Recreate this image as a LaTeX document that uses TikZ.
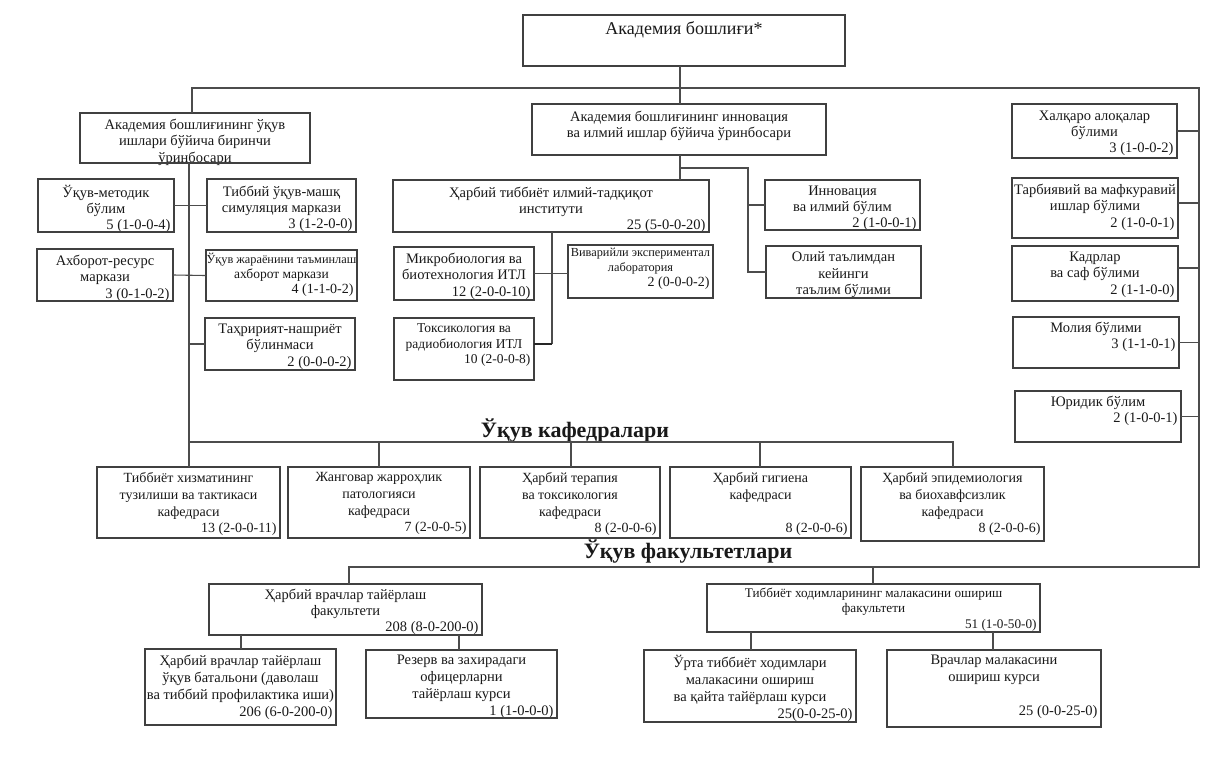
\documentclass[tikz,border=0pt]{standalone}
\usepackage{fontspec}
\setmainfont{Liberation Serif}
\newcommand\R[1]{\makebox[\utw pt][r]{#1}}
\newcommand\nn{\fontsize{14}{16}\selectfont}
\newcommand\ubox[8][]{%
 \pgfmathsetmacro\uw{#5-#3}\pgfmathsetmacro\uh{#6-#4}%
 \pgfmathsetmacro\ucx{(#3+#5)/2}\pgfmathsetmacro\ucy{(#4+#6)/2}%
 \pgfmathsetmacro\utw{#5-#3-7}\pgfmathsetmacro\uty{#7-9.5}%
 \node[tx,#1] (#2t) at (\ucx,\uty) {#8};
 \node[bx, minimum width=\uw pt, minimum height=\uh pt] (#2) at (\ucx,\ucy) {};
}
\tikzset{
 bx/.style={draw=black!75, line width=1.3pt, inner sep=0pt, outer sep=0pt, rectangle},
 tx/.style={anchor=north, inner sep=0pt, align=center, text=black!90,
   font=\fontsize{14.5}{16.5}\selectfont, execute at begin node={\rule{0pt}{14pt}}},
 sm/.style={font=\fontsize{12.3}{15.2}\selectfont},
 kf/.style={font=\fontsize{14}{16.7}\selectfont},
 ls/.style={font=\fontsize{14.5}{17}\selectfont},
 ln/.style={draw=black!70, line width=1.1pt},
 ttl/.style={anchor=base, inner sep=0pt, text=black!90, font=\fontsize{22}{24}\selectfont\bfseries}
}
\begin{document}
\begin{tikzpicture}[x=1pt,y=-1pt]
\fill[white] (0,0) rectangle (1220,756);
\useasboundingbox (0,0) rectangle (1220,756);

% top
\ubox[font=\fontsize{18}{22}\selectfont]{top}{523}{15}{845}{66}{30}{Академия бошлиғи*}
\ubox{vpl}{80}{113}{310}{163}{128}{Академия бошлиғининг ўқув\\ишлари бўйича биринчи\\ўринбосари}
\ubox{vpc}{532}{104}{826}{155}{120}{Академия бошлиғининг инновация\\ва илмий ишлар бўйича ўринбосари}

% left branch
\ubox[font=\fontsize{14.5}{16}\selectfont]{um}{38}{179}{174}{232}{195}{Ўқув-методик\\бўлим\\\R{5 (1-0-0-4)}}
\ubox[font=\fontsize{14.5}{16}\selectfont]{tum}{207}{179}{356}{232}{195}{Тиббий ўқув-машқ\\симуляция маркази\\\R{3 (1-2-0-0)}}
\ubox{ar}{37}{249}{173}{301}{264}{Ахборот-ресурс\\маркази\\\R{3 (0-1-0-2)}}
\ubox[sm]{uj}{206}{250}{357}{301}{262}{Ўқув жараёнини таъминлаш\\{\fontsize{13.5}{15}\selectfont ахборот маркази}\\\R{\nn 4 (1-1-0-2)}}
\ubox{tn}{205}{318}{355}{370}{333}{Таҳририят-нашриёт\\бўлинмаси\\\R{2 (0-0-0-2)}}

% centre branch
\ubox[font=\fontsize{14.5}{16}\selectfont]{ht}{393}{180}{709}{232}{196}{Ҳарбий тиббиёт илмий-тадқиқот\\институти\\\R{25 (5-0-0-20)}}
\ubox{mb}{394}{247}{534}{300}{262}{Микробиология ва\\биотехнология ИТЛ\\\R{12 (2-0-0-10)}}
\ubox[sm]{viv}{568}{245}{713}{298}{257}{Виварийли экспериментал\\лаборатория\\\R{\nn 2 (0-0-0-2)}}
\ubox[font=\fontsize{13.5}{15.5}\selectfont]{tox}{394}{318}{534}{380}{333}{Токсикология ва\\радиобиология ИТЛ\\\R{10 (2-0-0-8)}}
\ubox[font=\fontsize{14.5}{16}\selectfont]{inn}{765}{180}{920}{230}{195}{Инновация\\ва илмий бўлим\\\R{2 (1-0-0-1)}}
\ubox{ol}{766}{246}{921}{298}{261}{Олий таълимдан\\кейинги\\таълим бўлими}

% right column
\ubox[font=\fontsize{14.5}{16}\selectfont]{hal}{1012}{104}{1177}{158}{120}{Халқаро алоқалар\\бўлими\\\R{3 (1-0-0-2)}}
\ubox{tar}{1012}{178}{1178}{238}{193}{Тарбиявий ва мафкуравий\\ишлар бўлими\\\R{2 (1-0-0-1)}}
\ubox{kad}{1012}{246}{1178}{301}{261}{Кадрлар\\ва саф бўлими\\\R{2 (1-1-0-0)}}
\ubox[font=\fontsize{14.5}{16}\selectfont]{mol}{1013}{317}{1179}{368}{331}{Молия бўлими\\\R{3 (1-1-0-1)}}
\ubox[font=\fontsize{14.5}{16}\selectfont]{yur}{1015}{391}{1181}{442}{405}{Юридик бўлим\\\R{2 (1-0-0-1)}}

% kafedras
\node[ttl] (kt) at (575,437) {Ўқув кафедралари};
\ubox[kf]{k1}{97}{467}{280}{538}{482}{Тиббиёт хизматининг\\тузилиши ва тактикаси\\кафедраси\\\R{13 (2-0-0-11)}}
\ubox[kf]{k2}{288}{467}{470}{538}{482}{Жанговар жарроҳлик\\патологияси\\кафедраси\\\R{7 (2-0-0-5)}}
\ubox[kf]{k3}{480}{467}{660}{538}{482}{Ҳарбий терапия\\ва токсикология\\кафедраси\\\R{8 (2-0-0-6)}}
\ubox[kf]{k4}{670}{467}{851}{538}{482}{Ҳарбий гигиена\\кафедраси\\\mbox{}\\\R{8 (2-0-0-6)}}
\ubox[kf]{k5}{861}{467}{1044}{541}{482}{Ҳарбий эпидемиология\\ва биохавфсизлик\\кафедраси\\\R{8 (2-0-0-6)}}

% faculties
\node[ttl] (ft) at (688,558) {Ўқув факультетлари};
\ubox[font=\fontsize{14.5}{16}\selectfont]{fac1}{209}{584}{482}{635}{598}{Ҳарбий врачлар тайёрлаш\\факультети\\\R{208 (8-0-200-0)}}
\ubox[ls]{ch1}{145}{649}{336}{725}{664}{Ҳарбий врачлар тайёрлаш\\ўқув батальони (даволаш\\ва тиббий профилактика иши)\\\R{206 (6-0-200-0)}}
\ubox[ls]{ch2}{366}{650}{557}{718}{664}{Резерв ва захирадаги\\офицерларни\\тайёрлаш курси\\\R{1 (1-0-0-0)}}
\ubox[font=\fontsize{13.2}{15.5}\selectfont]{fac2}{707}{584}{1040}{632}{597}{Тиббиёт ходимларининг малакасини ошириш\\факультети\\\R{51 (1-0-50-0)}}
\ubox[ls]{ch3}{644}{650}{856}{722}{664}{Ўрта тиббиёт ходимлари\\малакасини ошириш\\ва қайта тайёрлаш курси\\\R{25(0-0-25-0)}}
\ubox[ls]{ch4}{887}{650}{1101}{727}{664}{Врачлар малакасини\\ошириш курси\\\mbox{}\\\R{25 (0-0-25-0)}}

% connectors
\coordinate (jL) at (192,88);
\coordinate (jR) at (1199,88);
\coordinate (jT) at (680,88);
\coordinate (jRb) at (1199,567);
\coordinate (jF) at (349,567);
\coordinate (jF2) at (873,567);
\draw[ln] (vpl.north -| jL) -- (jL) -- (jR) -- (jRb) -- (jF) -- (fac1.north -| jF);
\draw[ln] (jF2) -- (fac2.north -| jF2);
\draw[ln] (top.south -| jT) -- (vpc.north -| jT);

\coordinate (tk) at (189,442);
\coordinate (d2) at (379,442);
\coordinate (d3) at (571,442);
\coordinate (d4) at (760,442);
\coordinate (d5) at (953,442);
\draw[ln] (vpl.south -| tk) -- (tk) -- (d5) -- (k5.north -| d5);
\draw[ln] (tk) -- (k1.north -| tk);
\draw[ln] (d2) -- (k2.north -| d2);
\draw[ln] (d3) -- (k3.north -| d3);
\draw[ln] (d4) -- (k4.north -| d4);
\draw[ln] (um.east) -- (tum.west);
\draw[ln] (ar.east) -- (uj.west);
\draw[ln] (tn.west -| tk) -- (tn.west);

\coordinate (cj) at (552,344);
\draw[ln] (ht.south -| cj) -- (cj);
\draw[draw=black!85, line width=2.6pt] (cj) -- (tox.east |- cj);
\draw[ln] (mb.east) -- (viv.west |- mb.east);

\coordinate (i1) at (680,168);
\coordinate (i2) at (748,168);
\coordinate (i3) at (748,272);
\draw[ln] (vpc.south -| i1) -- (ht.north -| i1);
\draw[ln] (i1) -- (i2) -- (i3) -- (ol.west |- i3);
\draw[ln] (inn.west -| i2) -- (inn.west);

\draw[ln] (hal.east) -- (hal.east -| jR);
\draw[ln] ([yshift=5pt]tar.east) -- ([yshift=5pt]tar.east -| jR);
\draw[ln] ([yshift=5.5pt]kad.east) -- ([yshift=5.5pt]kad.east -| jR);
\draw[ln] (mol.east) -- (mol.east -| jR);
\draw[ln] (yur.east) -- (yur.east -| jR);

\coordinate (f1a) at (241,0);
\coordinate (f1b) at (459,0);
\coordinate (f2a) at (751,0);
\coordinate (f2b) at (993,0);
\draw[ln] (fac1.south -| f1a) -- (ch1.north -| f1a);
\draw[ln] (fac1.south -| f1b) -- (ch2.north -| f1b);
\draw[ln] (fac2.south -| f2a) -- (ch3.north -| f2a);
\draw[ln] (fac2.south -| f2b) -- (ch4.north -| f2b);
\end{tikzpicture}
\end{document}
